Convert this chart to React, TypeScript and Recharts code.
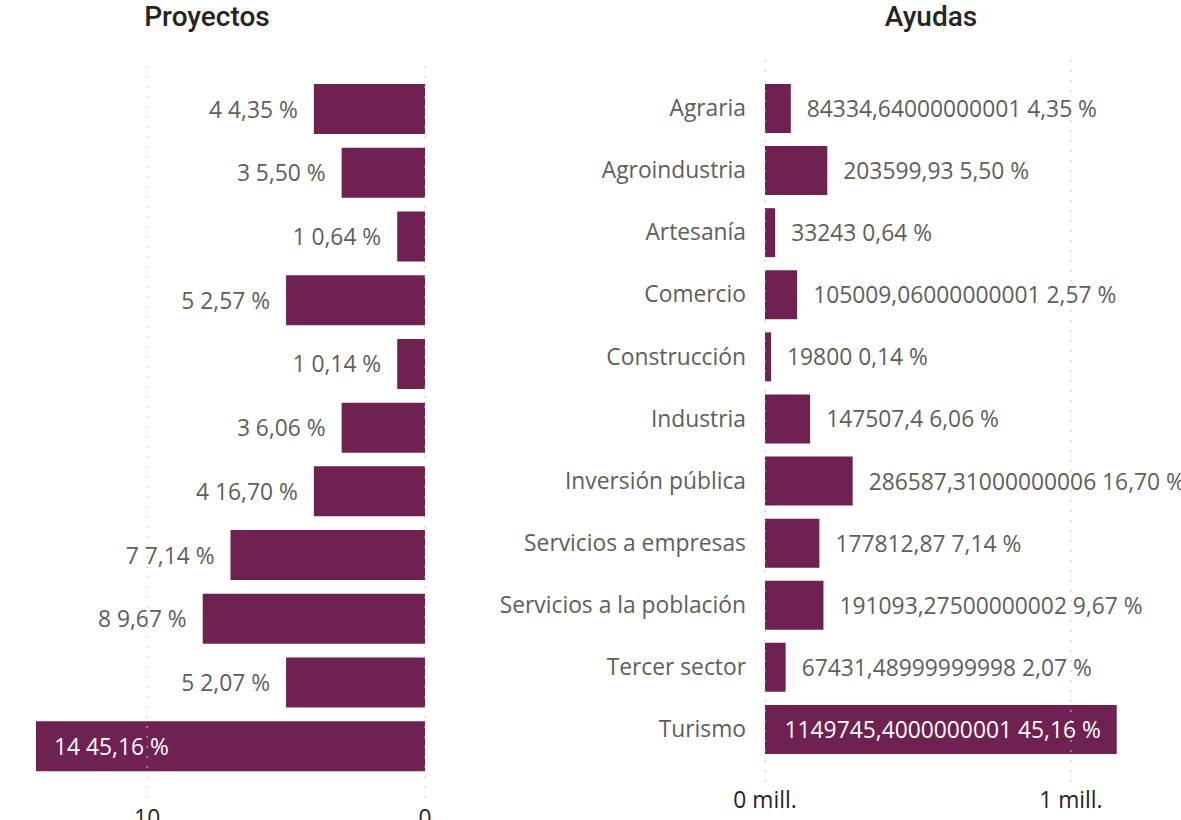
import React from "react";
import { BarChart, Bar, XAxis, YAxis, ReferenceLine, LabelList } from "recharts";

const categories = [
  "Agraria",
  "Agroindustria",
  "Artesanía",
  "Comercio",
  "Construcción",
  "Industria",
  "Inversión pública",
  "Servicios a empresas",
  "Servicios a la población",
  "Tercer sector",
  "Turismo",
];
const proyectos = [4, 3, 1, 5, 1, 3, 4, 7, 8, 5, 14];
const ayudasText = [
  "84334,64000000001",
  "203599,93",
  "33243",
  "105009,06000000001",
  "19800",
  "147507,4",
  "286587,31000000006",
  "177812,87",
  "191093,27500000002",
  "67431,48999999998",
  "1149745,4000000001",
];
const porcentajes = [
  "4,35 %",
  "5,50 %",
  "0,64 %",
  "2,57 %",
  "0,14 %",
  "6,06 %",
  "16,70 %",
  "7,14 %",
  "9,67 %",
  "2,07 %",
  "45,16 %",
];
const proyectosTicks = [0, 10];
const ayudasTicks = [0, 1000000];

const BAR = "#6F2251";
const TXT = "#605E5C";
const GRID = "#C8C6C4";
const FONT = "'Open Sans', 'Segoe UI', sans-serif";
const FS = 22.8;

const data = categories.map((name, i) => ({
  name,
  proyectos: proyectos[i],
  ayudas: parseFloat(ayudasText[i].replace(",", ".")),
  ayudasLabel: ayudasText[i],
  pct: porcentajes[i],
}));
const maxProy = Math.max(...proyectos);
const maxAyu = Math.max(...data.map((d) => d.ayudas));

const LeftLabel = (props: any) => {
  const { x, y, width, height, index } = props;
  const d = data[index];
  const left = Math.min(x, x + width);
  const cy = y + height / 2;
  const text = `${d.proyectos} ${d.pct}`;
  const inside = d.proyectos / maxProy > 0.9;
  if (inside) {
    return (
      <text x={left + 18} y={cy} textAnchor="start" dominantBaseline="central" fill="#FFFFFF" fontSize={FS} fontFamily={FONT}>
        {text}
      </text>
    );
  }
  return (
    <text x={left - 16} y={cy} textAnchor="end" dominantBaseline="central" fill={TXT} fontSize={FS} fontFamily={FONT}>
      {text}
    </text>
  );
};

const RightLabel = (props: any) => {
  const { x, y, width, height, index } = props;
  const d = data[index];
  const right = Math.max(x, x + width);
  const cy = y + height / 2;
  const text = `${d.ayudasLabel} ${d.pct}`;
  const inside = d.ayudas / maxAyu > 0.9;
  if (inside) {
    return (
      <text x={right - 16} y={cy} textAnchor="end" dominantBaseline="central" fill="#FFFFFF" fontSize={FS} fontFamily={FONT}>
        {text}
      </text>
    );
  }
  return (
    <text x={right + 16} y={cy} textAnchor="start" dominantBaseline="central" fill={TXT} fontSize={FS} fontFamily={FONT}>
      {text}
    </text>
  );
};

const titleStyle: React.CSSProperties = {
  position: "absolute",
  width: 300,
  textAlign: "center",
  fontFamily: "Roboto, 'DejaVu Sans', sans-serif",
  fontWeight: 500,
  fontSize: 28,
  lineHeight: "34px",
  color: "#252423",
  top: 0,
};

export default function App() {
  return (
    <div
      style={{
        position: "fixed",
        left: 0,
        top: 0,
        width: 1181,
        height: 820,
        overflow: "hidden",
        background: "#FFFFFF",
      }}
    >
      <div style={{ ...titleStyle, left: 207 - 150 }}>Proyectos</div>
      <div style={{ ...titleStyle, left: 931 - 150 }}>Ayudas</div>

      <div style={{ position: "absolute", left: 0, top: 0 }}>
        <BarChart
          width={450}
          height={840}
          data={data}
          layout="vertical"
          margin={{ top: 65, right: 25, left: 36, bottom: 12 }}
        >
          <XAxis
            type="number"
            dataKey="proyectos"
            domain={[0, 14]}
            ticks={proyectosTicks}
            reversed
            axisLine={false}
            tickLine={false}
            tickSize={0}
            tickMargin={12}
            height={30}
            tick={{ fill: "#252423", fontSize: FS, fontFamily: FONT }}
          />
          <YAxis type="category" dataKey="name" hide padding={{ top: 12, bottom: 20 }} />
          {proyectosTicks.map((t) => (
            <ReferenceLine key={t} x={t} stroke={GRID} strokeDasharray="2 8" />
          ))}
          <Bar dataKey="proyectos" fill={BAR} barSize={50} isAnimationActive={false}>
            <LabelList dataKey="proyectos" content={LeftLabel} />
          </Bar>
        </BarChart>
      </div>

      <div style={{ position: "absolute", left: 460, top: 0 }}>
        <BarChart
          width={721}
          height={820}
          data={data}
          layout="vertical"
          margin={{ top: 59, right: 3, left: 0, bottom: 8 }}
        >
          <XAxis
            type="number"
            dataKey="ayudas"
            domain={[0, 1350000]}
            ticks={ayudasTicks}
            tickFormatter={(v: number) => `${v / 1000000} mill.`}
            axisLine={false}
            tickLine={false}
            tickSize={0}
            tickMargin={10}
            height={30}
            tick={{ fill: "#252423", fontSize: FS, fontFamily: FONT }}
          />
          <YAxis
            type="category"
            dataKey="name"
            width={305}
            axisLine={false}
            tickLine={false}
            tickSize={0}
            tickMargin={19}
            padding={{ top: 18, bottom: 22 }}
            tick={{ fill: TXT, fontSize: FS, fontFamily: FONT }}
            interval={0}
          />
          {ayudasTicks.map((t) => (
            <ReferenceLine key={t} x={t} stroke={GRID} strokeDasharray="2 8" />
          ))}
          <Bar dataKey="ayudas" fill={BAR} barSize={49} isAnimationActive={false}>
            <LabelList dataKey="ayudas" content={RightLabel} />
          </Bar>
        </BarChart>
      </div>
    </div>
  );
}
